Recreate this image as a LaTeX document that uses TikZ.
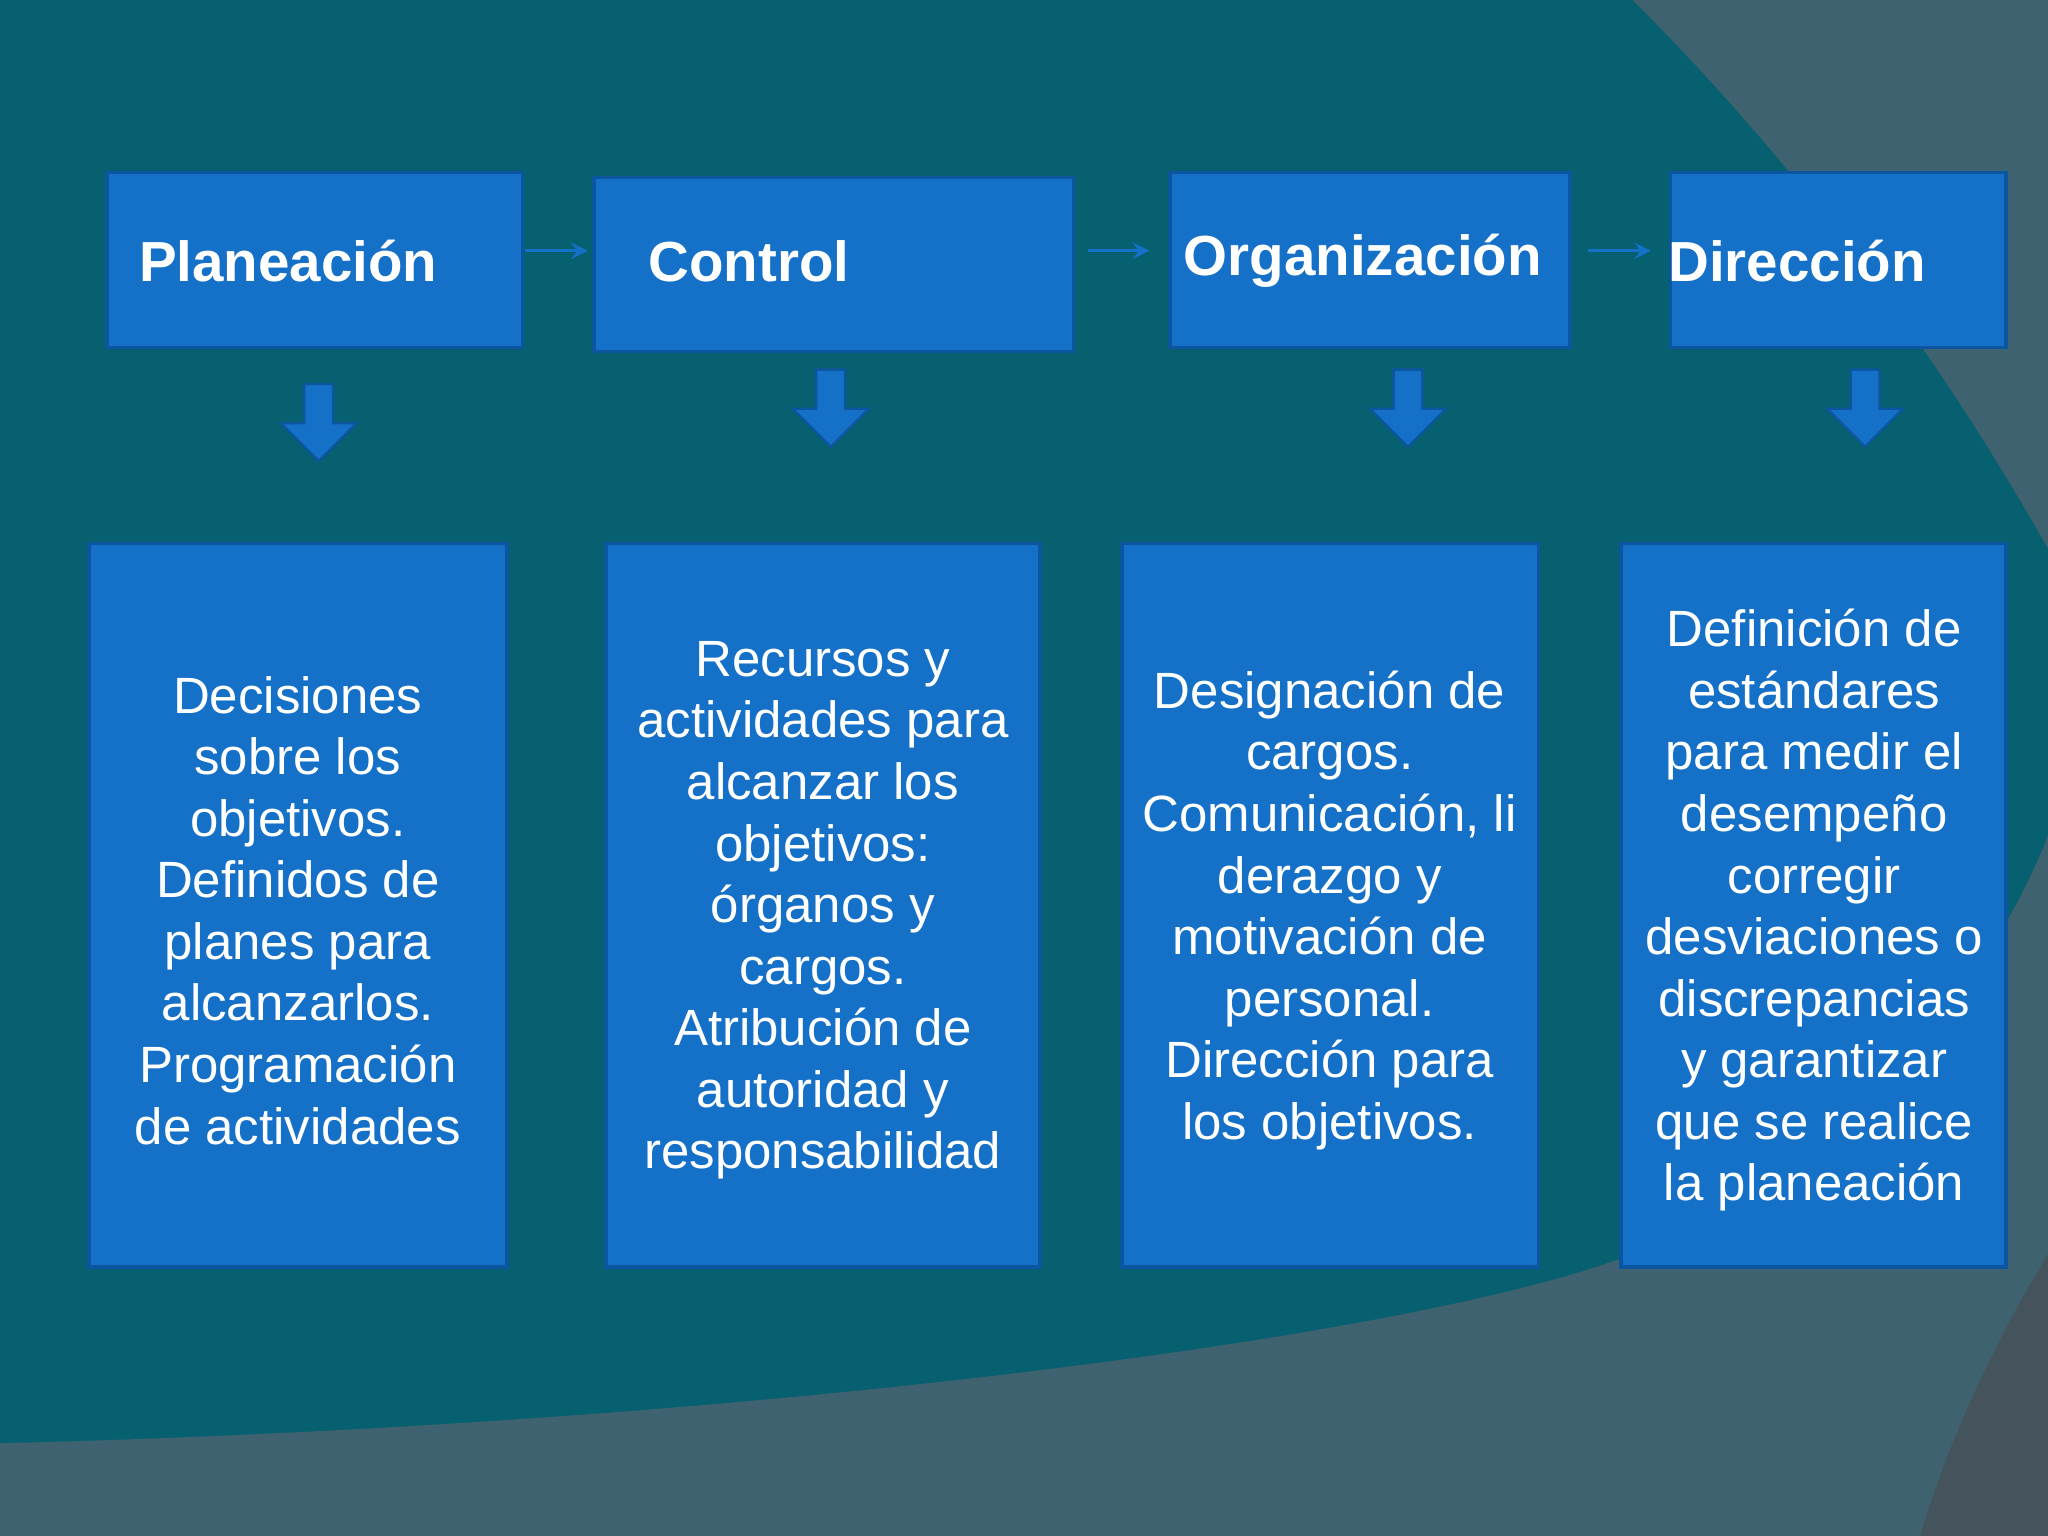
\documentclass[tikz,border=0pt]{standalone}
\usepackage{fontspec}
\setmainfont{Liberation Sans}
\definecolor{bgteal}{HTML}{07606F}
\definecolor{bggrey}{HTML}{3E6270}
\definecolor{bgdark}{HTML}{44535C}
\definecolor{boxblue}{HTML}{1570C8}
\definecolor{boxedge}{HTML}{0C55A0}
\tikzset{
  hbox/.style={fill=boxblue,draw=boxedge,line width=0.8pt},
  htext/.style={text=white,anchor=west,font=\fontsize{12.3}{15}\selectfont\bfseries},
  btext/.style={text=white,align=center,font=\fontsize{11.1}{13.4}\selectfont},
  thinarrow/.style={draw=boxblue,line width=0.6pt,-stealth},
  blockarrow/.style={fill=boxblue,draw=boxedge,line width=0.5pt},
  pics/downarr/.style={code={
    \draw[blockarrow] (-11,0) -- (11,0) -- (11,30) -- (29,30) -- (0,59) -- (-29,30) -- (-11,30) -- cycle;
  }}
}
\begin{document}
\begin{tikzpicture}[x=0.01cm,y=-0.01cm]
\useasboundingbox (0,0) rectangle (1568,1176);
\fill[bgteal] (0,0) rectangle (1568,1176);
\fill[bggrey] (1250,0) .. controls (1400,150) and (1500,300) .. (1568,420) -- (1568,0) -- cycle;
\fill[bggrey] (0,1105) .. controls (600,1090) and (1100,1020) .. (1250,960) .. controls (1420,880) and (1520,760) .. (1568,640) -- (1568,1176) -- (0,1176) -- cycle;
\fill[bgdark] (1568,1176) -- (1568,960) .. controls (1520,1040) and (1490,1110) .. (1470,1176) -- cycle;
% headers
\draw[hbox] (82,132) rectangle (400,266);
\draw[hbox] (455,136) rectangle (822,269);
\draw[hbox] (896,132) rectangle (1202,266);
\draw[hbox] (1279,132) rectangle (1536,266);
\node[htext] (hp) at (94,200) {Planeación};
\node[htext] (hc) at (484,200) {Control};
\node[htext] (ho) at (894,200) {Organización};
\node[htext] (hd) at (1265,200) {Dirección};
\coordinate (a1) at (402,192); \coordinate (b1) at (450,192);
\coordinate (a2) at (833,192); \coordinate (b2) at (880,192);
\coordinate (a3) at (1216,192); \coordinate (b3) at (1264,192);
\draw[thinarrow] (a1) -- (b1);
\draw[thinarrow] (a2) -- (b2);
\draw[thinarrow] (a3) -- (b3);
% down arrows
\pic (d1) at (244,294) {downarr};
\pic (d2) at (636,283) {downarr};
\pic (d3) at (1078,283) {downarr};
\pic (d4) at (1428,283) {downarr};
% bodies
\draw[hbox] (68,416) rectangle (388,970);
\draw[hbox] (464,416) rectangle (796,970);
\draw[hbox] (859,416) rectangle (1178,970);
\draw[hbox] (1241,416) rectangle (1536,970);
\node[btext] (t1) at (228,697) {Decisiones\\sobre los\\objetivos.\\Definidos de\\planes para\\alcanzarlos.\\Programación\\de actividades};
\node[btext] (t2) at (630,697) {Recursos y\\actividades para\\alcanzar los\\objetivos:\\órganos y\\cargos.\\Atribución de\\autoridad y\\responsabilidad};
\node[btext] (t3) at (1018,697) {Designación de\\cargos.\\Comunicación, li\\derazgo y\\motivación de\\personal.\\Dirección para\\los objetivos.};
\node[btext] (t4) at (1389,697) {Definición de\\estándares\\para medir el\\desempeño\\corregir\\desviaciones o\\discrepancias\\y garantizar\\que se realice\\la planeación};
\end{tikzpicture}
\end{document}
